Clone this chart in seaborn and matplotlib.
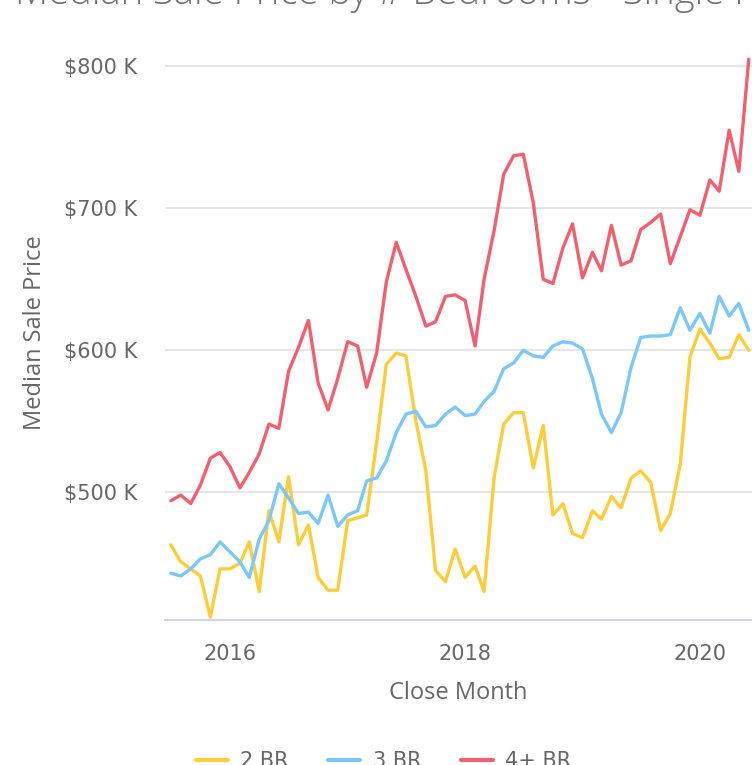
import pandas as pd
import matplotlib
matplotlib.use('Agg')
import matplotlib.pyplot as plt
from matplotlib.lines import Line2D
from matplotlib.ticker import FuncFormatter
import seaborn as sns

# monthly medians, thousand dollars (Jul 2015 - Jun 2020)
months = pd.date_range('2015-07-01', periods=60, freq='MS')

price_2br = [463, 451, 446, 441, 412, 446, 446, 450, 465, 430,
             487, 465, 511, 463, 477, 440, 431, 431, 480, 482,
             484, 535, 590, 598, 596, 550, 515, 445, 437, 460,
             440, 448, 430, 510, 548, 556, 556, 517, 547, 484,
             492, 471, 468, 487, 481, 497, 489, 510, 515, 507,
             473, 485, 520, 595, 615, 605, 594, 595, 611, 600]
price_3br = [443, 441, 446, 453, 456, 465, 458, 451, 440, 467,
             480, 506, 496, 485, 486, 478, 498, 476, 484, 487,
             508, 510, 522, 542, 555, 557, 546, 547, 555, 560,
             554, 555, 564, 571, 587, 591, 600, 596, 595, 603,
             606, 605, 601, 580, 555, 542, 556, 588, 609, 610,
             610, 611, 630, 614, 626, 612, 638, 624, 633, 614]
price_4br = [494, 498, 492, 505, 524, 528, 518, 503, 514, 527,
             548, 545, 585, 602, 621, 577, 558, 580, 606, 603,
             574, 598, 648, 676, 657, 638, 617, 620, 638, 639,
             635, 603, 650, 684, 724, 737, 738, 704, 650, 647,
             672, 689, 651, 669, 656, 688, 660, 663, 685, 690,
             696, 661, 680, 699, 695, 720, 712, 755, 726, 805]

series_names = ['2 BR', '3 BR', '4+ BR']
colors = ['#ffcc3a', '#7cc7fa', '#f2606f']

df = pd.concat([
    pd.DataFrame({'month': months, 'price': vals, 'Bedrooms': name})
    for name, vals in zip(series_names, [price_2br, price_3br, price_4br])
])

sns.set_theme(style='white')
plt.rcParams['font.family'] = ['DejaVu Sans']
text_color = '#666666'

fig = plt.figure(figsize=(7.52, 7.65), dpi=100)
ax = fig.add_axes([165 / 752, 1 - 620 / 765, 1 - 165 / 752, 575 / 765])

sns.lineplot(data=df, x='month', y='price', hue='Bedrooms',
             palette=dict(zip(series_names, colors)), linewidth=2.4,
             ax=ax, legend=False)
for ln in ax.get_lines():
    ln.set_solid_joinstyle('round')
    ln.set_solid_capstyle('round')

ax.set_xlim(pd.Timestamp('2015-06-13'), pd.Timestamp('2020-06-11'))
ax.set_ylim(410, 815)

ax.set_yticks([500, 600, 700, 800])
ax.yaxis.set_major_formatter(FuncFormatter(lambda v, p: f'${int(v)} K'))
ax.set_xticks([pd.Timestamp('2016-01-01'), pd.Timestamp('2018-01-01'),
               pd.Timestamp('2020-01-01')])
ax.set_xticklabels(['2016', '2018', '2020'])
ax.tick_params(axis='both', length=0, labelsize=15, labelcolor=text_color)
ax.tick_params(axis='y', pad=20)
ax.tick_params(axis='x', pad=17)

ax.grid(axis='y', color='#e6e6e6', linewidth=1.5)
ax.grid(axis='x', visible=False)
for side in ['top', 'right', 'left']:
    ax.spines[side].set_visible(False)
ax.spines['bottom'].set_color('#ccd6eb')
ax.spines['bottom'].set_linewidth(1.5)

ax.set_xlabel('Close Month', fontsize=17, family='Open Sans', color=text_color, va='center')
ax.set_ylabel('Median Sale Price', fontsize=17, family='Open Sans', color=text_color, va='center')
ax.xaxis.set_label_coords(0.5, -0.127)
ax.yaxis.set_label_coords(-0.222, 0.5)

# title is cut off by the top edge in the reference
fig.text(15 / 752, 1 - 4 / 765, 'Median Sale Price by # Bedrooms - Single Family Residential',
         fontsize=27.5, family='Open Sans', fontweight='light', color='#707070',
         ha='left', va='baseline')

handles = [Line2D([], [], color=c, linewidth=3) for c in colors]
fig.legend(handles, series_names, loc='center', bbox_to_anchor=(383.5 / 752, 4 / 765),
           ncol=3, frameon=False, fontsize=15, handlelength=1.54, handletextpad=0.58,
           columnspacing=1.92, labelcolor=text_color)

fig.savefig('out.png', dpi=100)
